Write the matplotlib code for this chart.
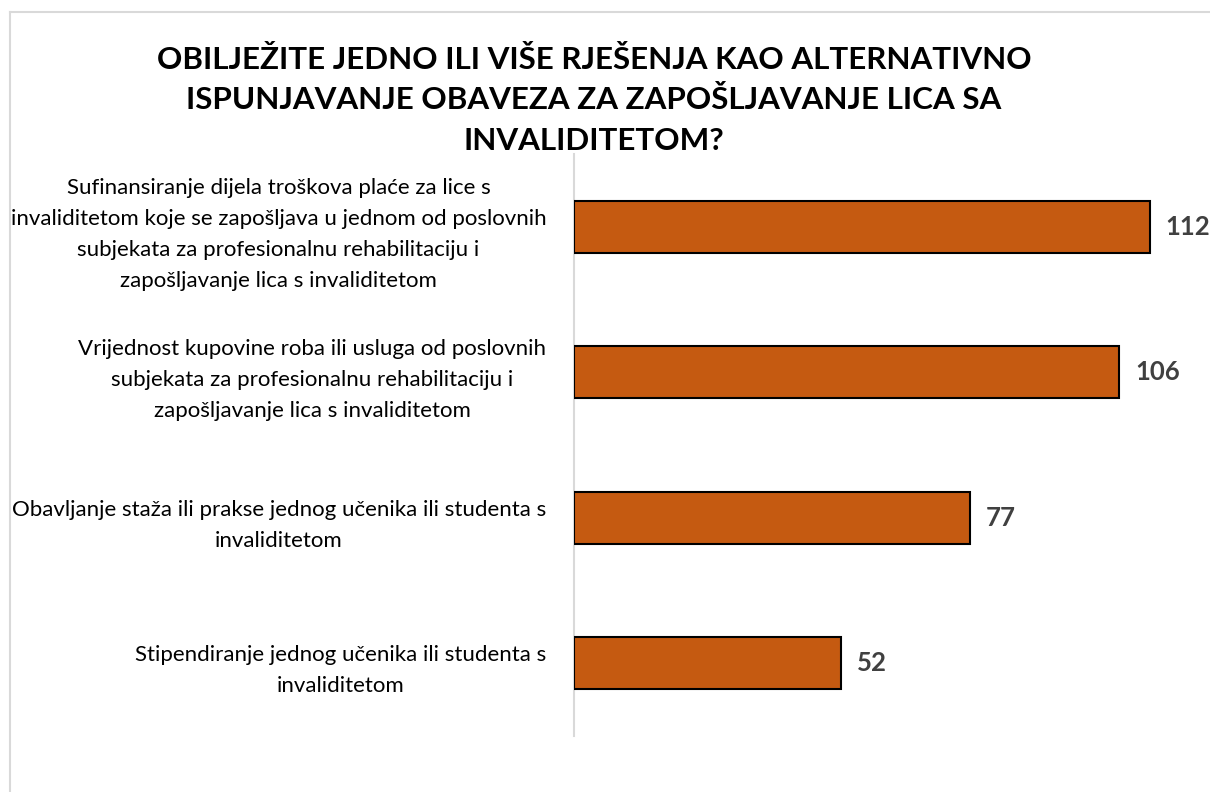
import matplotlib
matplotlib.use('Agg')
import matplotlib.pyplot as plt
from matplotlib.lines import Line2D

# ---- data ----
title_lines = [
    "OBILJEŽITE JEDNO ILI VIŠE RJEŠENJA KAO ALTERNATIVNO",
    "ISPUNJAVANJE OBAVEZA ZA ZAPOŠLJAVANJE LICA SA",
    "INVALIDITETOM?",
]
categories = [
    "Sufinansiranje dijela troškova plaće za lice s\n"
    "invaliditetom koje se zapošljava u jednom od poslovnih\n"
    "subjekata za profesionalnu rehabilitaciju i\n"
    "zapošljavanje lica s invaliditetom",
    "Vrijednost kupovine roba ili usluga od poslovnih\n"
    "subjekata za profesionalnu rehabilitaciju i\n"
    "zapošljavanje lica s invaliditetom",
    "Obavljanje staža ili prakse jednog učenika ili studenta s\n"
    "invaliditetom",
    "Stipendiranje jednog učenika ili studenta s\n"
    "invaliditetom",
]
values = [112, 106, 77, 52]

# ---- style ----
W, H = 1210, 792
BAR_COLOR = '#C55A11'
GRID = '#D9D9D9'
FONT = 'Lato'

fig = plt.figure(figsize=(W / 100, H / 100), dpi=100)
fig.patch.set_facecolor('white')

# chart area border (left and top visible)
fig.add_artist(Line2D([10 / W, 10 / W], [0, 1 - 12 / H], color=GRID, lw=1.5,
                      transform=fig.transFigure))
fig.add_artist(Line2D([10 / W, 1], [1 - 12 / H, 1 - 12 / H], color=GRID, lw=1.5,
                      transform=fig.transFigure))

ax = fig.add_axes([574 / W, 1 - 736 / H, (1191 - 574) / W, (736 - 154) / H])
ypos = list(range(len(categories)))
ax.barh(ypos, values, height=0.36, color=BAR_COLOR, edgecolor='black',
        linewidth=1.5, zorder=3)
ax.set_ylim(len(categories) - 0.5, -0.5)
ax.set_xlim(0, 120)
for s in ['top', 'right', 'bottom']:
    ax.spines[s].set_visible(False)
ax.spines['left'].set_color(GRID)
ax.spines['left'].set_linewidth(1.5)
ax.set_xticks([])
ax.set_yticks(ypos)
ax.set_yticklabels(categories, family=FONT, fontsize=14, color='black')
ax.tick_params(axis='y', length=0, pad=20)
for t in ax.get_yticklabels():
    t.set_multialignment('center')
    t.set_linespacing(1.2)

for i, v in enumerate(values):
    ax.annotate(str(v), (v, i), xytext=(11.5, 0), textcoords='offset points',
                ha='left', va='center', fontsize=18.5, fontweight='bold',
                family=FONT, color='#404040')

title_texts = []
for k, (line, base) in enumerate(zip(title_lines, [69, 109, 150])):
    t = fig.text(594 / W, 1 - base / H, line, ha='center', va='baseline',
                 fontsize=22, fontweight='bold', family=FONT, color='black')
    title_texts.append(t)

# ---- fit font sizes to measured widths ----
fig.canvas.draw()
r = fig.canvas.get_renderer()
w = title_texts[0].get_window_extent(r).width
fs = 22 * 877 / w
for t in title_texts:
    t.set_fontsize(fs)

lab = ax.get_yticklabels()[0]
w = lab.get_window_extent(r).width
fs2 = 14 * 537 / w
for t in ax.get_yticklabels():
    t.set_fontsize(fs2)
    t.set_linespacing(1.0)

# fit line spacing so baselines are ~30 px apart
fig.canvas.draw()
lab = ax.get_yticklabels()[0]
h1 = lab.get_window_extent(r).height
lab.set_linespacing(2.0)
h2 = lab.get_window_extent(r).height
per_unit = (h2 - h1) / 3.0
ls = 29.5 / per_unit * 0.92
for t in ax.get_yticklabels():
    t.set_linespacing(ls)

fig.savefig('out.png', dpi=100, facecolor='white')
